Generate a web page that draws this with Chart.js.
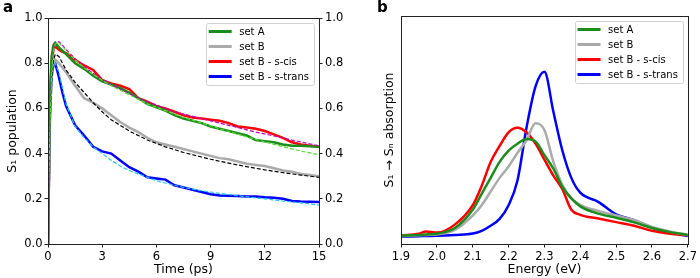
<!DOCTYPE html>
<html>
<head>
<meta charset="utf-8">
<script src="https://cdn.jsdelivr.net/npm/chart.js@4"></script>
<style>
  body { margin: 0; background: #fff; }
  #wrap { position: relative; width: 700px; height: 278px; }
  canvas { position: absolute; top: 0; }
  .tag { position: absolute; font: bold 15px 'DejaVu Sans'; color: #000; }
</style>
</head>
<body>
<div id="wrap">
  <canvas id="popChart" width="350" height="278" style="left:0"></canvas>
  <canvas id="absChart" width="350" height="278" style="left:350px"></canvas>
  <div class="tag" style="left:3px;top:-2px">a</div>
  <div class="tag" style="left:377px;top:-2px">b</div>
</div>
<script>
var seriesNames = ['set A', 'set B', 'set B - s-cis', 'set B - s-trans'];

// panel a : S1 population vs time (ps)
var times = [0, 0.1, 0.2, 0.3, 0.4, 0.6, 0.8, 1, 1.5, 2, 2.5, 3, 3.5, 4, 4.5, 5, 5.5, 6, 6.5, 7, 7.5, 8, 8.5, 9, 9.5, 10, 10.5, 11, 11.5, 12, 12.5, 13, 13.5, 14, 14.5, 15];
var popSetA  = [0, 0.65, 0.83, 0.88, 0.89, 0.87, 0.855, 0.84, 0.80, 0.775, 0.745, 0.72, 0.705, 0.69, 0.67, 0.645, 0.62, 0.605, 0.59, 0.57, 0.555, 0.545, 0.535, 0.52, 0.51, 0.50, 0.49, 0.48, 0.46, 0.455, 0.45, 0.44, 0.435, 0.435, 0.432, 0.43];
var popSetB  = [0, 0.55, 0.75, 0.80, 0.815, 0.80, 0.78, 0.76, 0.70, 0.645, 0.625, 0.60, 0.57, 0.54, 0.515, 0.495, 0.47, 0.45, 0.44, 0.43, 0.42, 0.41, 0.40, 0.39, 0.38, 0.375, 0.365, 0.355, 0.35, 0.345, 0.335, 0.325, 0.32, 0.31, 0.305, 0.30];
var popCis   = [0, 0.6, 0.8, 0.86, 0.875, 0.86, 0.85, 0.845, 0.815, 0.79, 0.77, 0.725, 0.71, 0.70, 0.685, 0.645, 0.63, 0.61, 0.60, 0.585, 0.57, 0.56, 0.555, 0.55, 0.545, 0.535, 0.52, 0.515, 0.51, 0.50, 0.485, 0.47, 0.45, 0.44, 0.435, 0.43];
var popTrans = [0, 0.55, 0.75, 0.79, 0.80, 0.74, 0.67, 0.61, 0.525, 0.48, 0.43, 0.41, 0.40, 0.37, 0.34, 0.32, 0.295, 0.29, 0.285, 0.26, 0.25, 0.24, 0.23, 0.22, 0.215, 0.213, 0.212, 0.21, 0.21, 0.207, 0.205, 0.20, 0.19, 0.188, 0.187, 0.186];
// fitted curves (dashed)
var fitSetA  = [0, 0.5, 0.75, 0.85, 0.885, 0.89, 0.875, 0.855, 0.815, 0.78, 0.75, 0.725, 0.70, 0.68, 0.66, 0.64, 0.62, 0.605, 0.59, 0.575, 0.56, 0.548, 0.535, 0.522, 0.51, 0.498, 0.486, 0.474, 0.463, 0.452, 0.441, 0.431, 0.421, 0.411, 0.403, 0.395];
var fitSetB  = [0, 0.5, 0.72, 0.81, 0.84, 0.83, 0.80, 0.77, 0.715, 0.67, 0.625, 0.585, 0.55, 0.525, 0.50, 0.48, 0.46, 0.445, 0.43, 0.418, 0.405, 0.395, 0.385, 0.375, 0.366, 0.358, 0.35, 0.342, 0.335, 0.328, 0.322, 0.316, 0.31, 0.305, 0.30, 0.295];
var fitCis   = [0, 0.5, 0.75, 0.85, 0.89, 0.895, 0.88, 0.86, 0.82, 0.785, 0.755, 0.73, 0.705, 0.685, 0.665, 0.645, 0.63, 0.615, 0.60, 0.585, 0.575, 0.565, 0.555, 0.545, 0.535, 0.525, 0.515, 0.505, 0.495, 0.487, 0.478, 0.47, 0.46, 0.452, 0.443, 0.435];
var fitTrans = [0, 0.45, 0.70, 0.78, 0.80, 0.76, 0.69, 0.62, 0.52, 0.47, 0.43, 0.40, 0.37, 0.345, 0.325, 0.31, 0.295, 0.28, 0.27, 0.26, 0.25, 0.243, 0.236, 0.23, 0.224, 0.219, 0.214, 0.209, 0.204, 0.20, 0.195, 0.19, 0.186, 0.182, 0.177, 0.172];

// panel b : S1 -> Sn absorption vs energy (eV), arbitrary units
var energies = [1.9, 1.95, 1.97, 2.0, 2.05, 2.1, 2.125, 2.15, 2.175, 2.2, 2.225, 2.25, 2.275, 2.3, 2.325, 2.35, 2.375, 2.4, 2.45, 2.5, 2.55, 2.6, 2.65, 2.7];
var absSetA  = [0.036, 0.04, 0.042, 0.045, 0.07, 0.15, 0.22, 0.29, 0.36, 0.41, 0.44, 0.46, 0.45, 0.39, 0.33, 0.25, 0.20, 0.165, 0.133, 0.115, 0.095, 0.07, 0.052, 0.04];
var absSetB  = [0.035, 0.038, 0.04, 0.042, 0.062, 0.125, 0.17, 0.23, 0.29, 0.34, 0.40, 0.455, 0.53, 0.50, 0.36, 0.26, 0.20, 0.172, 0.145, 0.125, 0.105, 0.075, 0.055, 0.04];
var absCis   = [0.038, 0.045, 0.055, 0.05, 0.085, 0.17, 0.255, 0.36, 0.43, 0.49, 0.51, 0.49, 0.44, 0.37, 0.30, 0.24, 0.15, 0.128, 0.112, 0.096, 0.08, 0.058, 0.045, 0.038];
var absTrans = [0.033, 0.034, 0.035, 0.036, 0.04, 0.046, 0.058, 0.08, 0.11, 0.17, 0.28, 0.51, 0.69, 0.755, 0.58, 0.41, 0.29, 0.225, 0.185, 0.13, 0.105, 0.072, 0.05, 0.035];

var solidColors = ['#1c8c1c', '#aaaaaa', '#ff0000', '#0000ff'];
var fitColors = ['#55dd33', '#000000', '#c000c0', '#22c8f0'];

Chart.defaults.font.family = "'DejaVu Sans'";
Chart.defaults.font.size = 11.5;
Chart.defaults.color = '#000';

function pts(xs, ys) {
    return xs.map(function (x, i) { return { x: x, y: ys[i] }; });
}

function solid(i, xs, ys, smooth) {
    var ds = { label: seriesNames[i], data: pts(xs, ys), borderColor: solidColors[i], borderWidth: 2.5, pointRadius: 0, order: 1 };
    if (smooth) ds.cubicInterpolationMode = 'monotone';
    return ds;
}

function dashed(i, xs, ys) {
    return { label: seriesNames[i] + ' fit', data: pts(xs, ys), borderColor: fitColors[i], borderWidth: 1.2, borderDash: [4, 2], pointRadius: 0, order: 0 };
}

// spines on all four sides
var framePlugin = {
    id: 'frame',
    afterDatasetsDraw: function (chart) {
        var a = chart.chartArea, ctx = chart.ctx;
        ctx.save();
        ctx.strokeStyle = '#222';
        ctx.lineWidth = 1;
        ctx.strokeRect(Math.round(a.left) + 0.5, Math.round(a.top) + 0.5, Math.round(a.right - a.left), Math.round(a.bottom - a.top));
        ctx.restore();
    }
};

// matplotlib-like legend in the upper right corner of the plot
var boxLegend = {
    id: 'boxLegend',
    afterDraw: function (chart) {
        var ctx = chart.ctx, a = chart.chartArea;
        var items = chart.data.datasets.filter(function (d) { return !d.borderDash; });
        ctx.save();
        ctx.font = "10px 'DejaVu Sans'";
        var textW = 0;
        items.forEach(function (d) { textW = Math.max(textW, ctx.measureText(d.label).width); });
        var rowH = 15, lineLen = 23;
        var w = 3 + lineLen + 7.5 + textW + 4.5;
        var h = rowH * items.length + 2;
        var x0 = a.right - 5.5 - w, y0 = a.top + 5;
        ctx.fillStyle = 'rgba(255,255,255,0.85)';
        ctx.strokeStyle = '#d0d0d0';
        ctx.lineWidth = 1;
        ctx.beginPath();
        ctx.roundRect(Math.round(x0) + 0.5, Math.round(y0) + 0.5, Math.round(w), Math.round(h), 2);
        ctx.fill();
        ctx.stroke();
        items.forEach(function (d, i) {
            var y = y0 + 8.5 + rowH * i;
            ctx.strokeStyle = d.borderColor;
            ctx.lineWidth = 3;
            ctx.beginPath();
            ctx.moveTo(x0 + 3, y);
            ctx.lineTo(x0 + 3 + lineLen, y);
            ctx.stroke();
            ctx.fillStyle = '#000';
            ctx.textBaseline = 'middle';
            ctx.fillText(d.label, x0 + 3 + lineLen + 7.5, y + 0.5);
        });
        ctx.restore();
    }
};

var tickGrid = { drawOnChartArea: false, drawTicks: true, tickLength: 3.5, color: '#222' };

new Chart(document.getElementById('popChart'), {
    type: 'line',
    data: {
        datasets: [
            solid(0, times, popSetA), solid(1, times, popSetB), solid(2, times, popCis), solid(3, times, popTrans),
            dashed(0, times, fitSetA), dashed(1, times, fitSetB), dashed(2, times, fitCis), dashed(3, times, fitTrans)
        ]
    },
    options: {
        responsive: false,
        animation: false,
        layout: { padding: { top: 18 } },
        plugins: { legend: { display: false }, tooltip: { enabled: false } },
        scales: {
            x: {
                type: 'linear', min: 0, max: 15,
                ticks: { stepSize: 3, maxRotation: 0, autoSkip: false, padding: 3 },
                grid: tickGrid, border: { color: '#222' },
                title: { display: true, text: 'Time (ps)', font: { size: 12.5 }, padding: { top: 0, bottom: 1 } },
                afterFit: function (s) { s.height = 34; }
            },
            y: {
                position: 'left', min: 0, max: 1,
                ticks: { stepSize: 0.2, padding: 2, callback: function (v) { return v.toFixed(1); } },
                grid: tickGrid, border: { color: '#222' },
                title: { display: true, text: 'S\u2081 population', font: { size: 12.5 }, padding: { top: 5.5 } },
                afterFit: function (s) { s.width = 48; }
            },
            y2: {
                position: 'right', min: 0, max: 1,
                ticks: { stepSize: 0.2, padding: 2.5, callback: function (v) { return v.toFixed(1); } },
                grid: tickGrid, border: { color: '#222' },
                afterFit: function (s) { s.width = 31; }
            }
        }
    },
    plugins: [framePlugin, boxLegend]
});

new Chart(document.getElementById('absChart'), {
    type: 'line',
    data: {
        datasets: [
            solid(0, energies, absSetA, true), solid(1, energies, absSetB, true),
            solid(2, energies, absCis, true), solid(3, energies, absTrans, true)
        ]
    },
    options: {
        responsive: false,
        animation: false,
        layout: { padding: { top: 16, right: 8 } },
        plugins: { legend: { display: false }, tooltip: { enabled: false } },
        scales: {
            x: {
                type: 'linear', min: 1.9, max: 2.7,
                ticks: { stepSize: 0.1, maxRotation: 0, autoSkip: false, padding: 3, callback: function (v) { return v.toFixed(1); } },
                grid: tickGrid, border: { color: '#222' },
                title: { display: true, text: 'Energy (eV)', font: { size: 12.5 }, padding: { top: 0, bottom: 1 } },
                afterFit: function (s) { s.height = 34; }
            },
            y: {
                min: 0, max: 1,
                ticks: { display: false },
                grid: { display: false }, border: { color: '#222' },
                title: { display: true, text: 'S\u2081 \u2192 S\u2099 absorption', font: { size: 12.5 }, padding: { top: 32 } },
                afterFit: function (s) { s.width = 51; }
            }
        }
    },
    plugins: [framePlugin, boxLegend]
});
</script>
</body>
</html>
